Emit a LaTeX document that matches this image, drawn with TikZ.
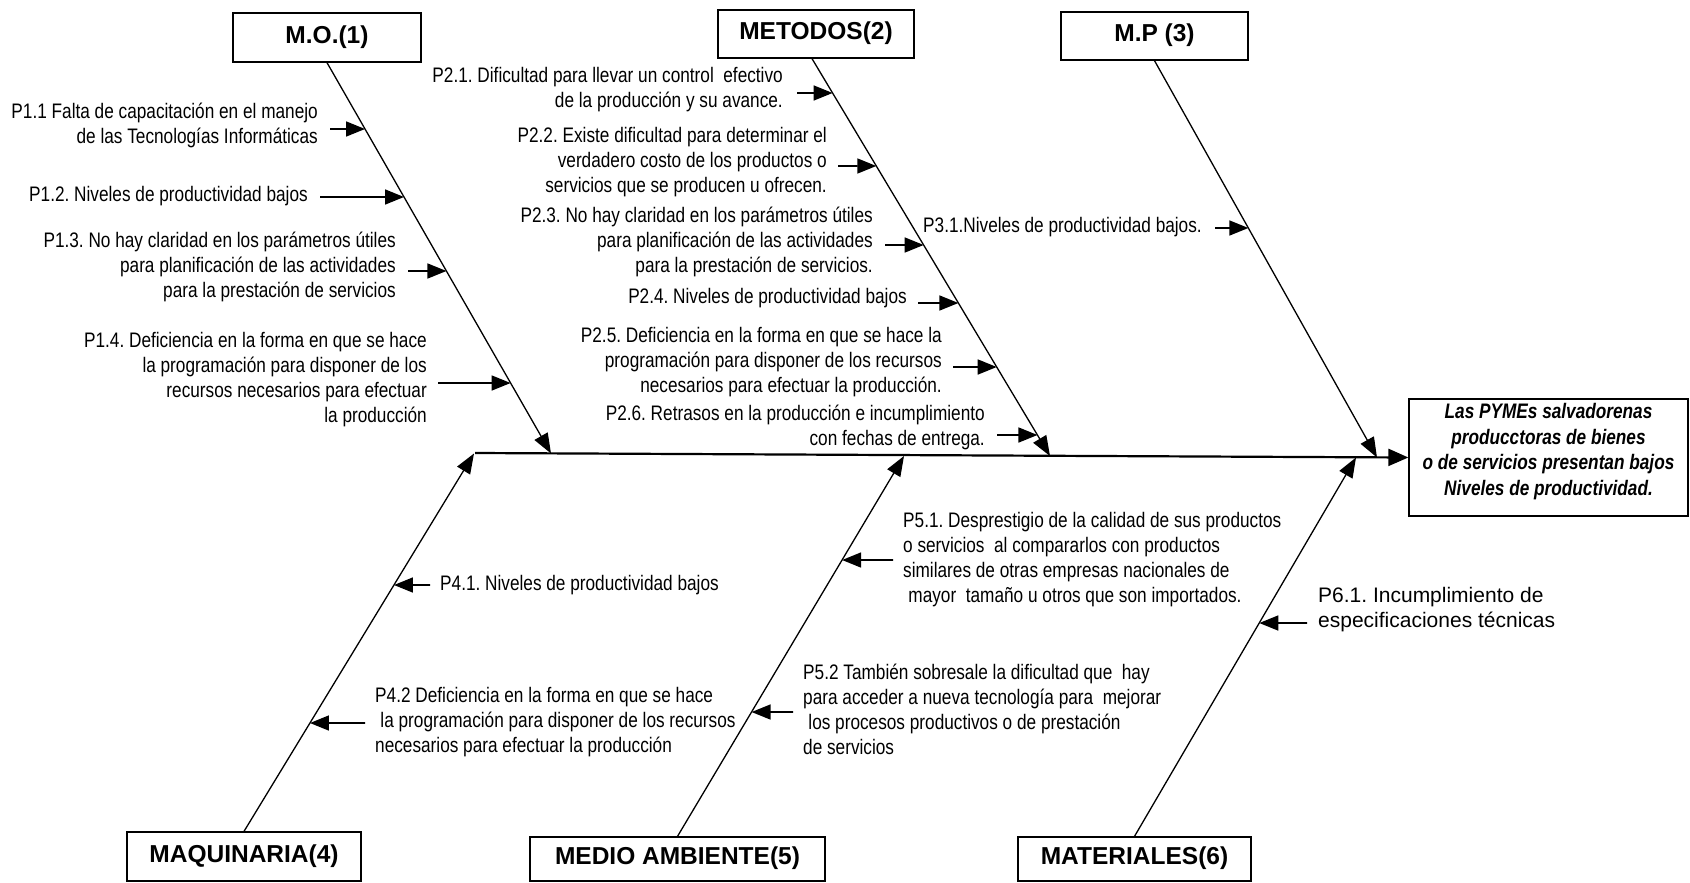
\documentclass[tikz,border=0pt]{standalone}
\usepackage{fontspec}
\setmainfont{Liberation Sans}[FakeStretch=0.82]
\newfontfamily\widefont{Liberation Sans}
\usetikzlibrary{arrows.meta,calc}
\frenchspacing

\tikzset{
  catbox/.style={draw, line width=1.3pt, inner sep=0pt,
    font=\widefont\bfseries\fontsize{24.5}{28}\selectfont,
    text height=20pt, text depth=8.4pt},
  cause/.style={inner sep=0pt, font=\fontsize{21}{25}\selectfont},
  widecause/.style={inner sep=0pt, font=\widefont\fontsize{21}{25}\selectfont},
  bone/.style={line width=1.3pt, -{Triangle[length=20pt,width=15pt]}},
  causearrow/.style={line width=1.6pt, -{Triangle[length=19pt,width=15pt]}},
  spine/.style={line width=2.2pt, -{Triangle[length=20pt,width=17pt]}},
  effbox/.style={draw, line width=1.3pt, inner sep=0pt},
}

\begin{document}
\begin{tikzpicture}[x=1pt,y=-1pt]
\useasboundingbox (0,0) rectangle (1690,883);

% category boxes
\node[catbox, minimum width=188pt, minimum height=49pt] (mo)  at (327,37.5)   {M.O.(1)};
\node[catbox, minimum width=196pt, minimum height=48pt] (met) at (816,34)     {METODOS(2)};
\node[catbox, minimum width=187pt, minimum height=48pt] (mp)  at (1154.5,36)  {M.P (3)};
\node[catbox, minimum width=234pt, minimum height=49pt] (maq) at (244,856.5)  {MAQUINARIA(4)};
\node[catbox, minimum width=295pt, minimum height=44pt] (med) at (677.5,859)  {MEDIO AMBIENTE(5)};
\node[catbox, minimum width=233pt, minimum height=44pt] (mat) at (1134.5,859) {MATERIALES(6)};

% effect
\node[effbox, minimum width=279pt, minimum height=117pt] (eff) at (1548.5,457.5) {};
\node[inner sep=0pt, align=center, font=\bfseries\itshape\fontsize{21}{25.7}\selectfont]
  (efftext) at (1548.5,451.5)
  {Las PYMEs salvadorenas\\producctoras de bienes\\o de servicios presentan bajos\\Niveles de productividad.};

% spine
\coordinate (sp0) at (475,453);
\draw[spine] (sp0) -- (eff.west);

% main bones
\coordinate (met-top) at ([xshift=-4pt]met.south);
\coordinate (mo-end)  at (551,453.5);
\coordinate (met-end) at (1050,456);
\coordinate (mp-end)  at (1377,457.5);
\coordinate (maq-end) at (474,453.5);
\coordinate (med-end) at (904,456);
\coordinate (mat-end) at (1356,457.5);
\draw[bone] (mo.south) -- (mo-end);
\draw[bone] (met-top) -- (met-end);
\draw[bone] (mp.south) -- (mp-end);
\draw[bone] (maq.north) -- (maq-end);
\draw[bone] (med.north) -- (med-end);
\draw[bone] (mat.north) -- (mat-end);

% M.O. causes
\node[cause, align=right, anchor=east] (p11) at (318,125.5)
  {P1.1 Falta de capacitación en el manejo\\de las Tecnologías Informáticas};
\node[cause, align=right, anchor=east] (p12) at (308,196)
  {P1.2. Niveles de productividad bajos};
\node[cause, align=right, anchor=east] (p13) at (396,267)
  {P1.3. No hay claridad en los parámetros útiles\\para planificación de las actividades\\para la prestación de servicios};
\node[cause, align=right, anchor=east] (p14) at (427,379.5)
  {P1.4. Deficiencia en la forma en que se hace\\la programación para disponer de los\\recursos necesarios para efectuar\\la producción};
\coordinate (s11) at (330,129);
\coordinate (s12) at (320,197);
\coordinate (s13) at (408,271);
\coordinate (s14) at (438,383);
\coordinate (t11) at (intersection of mo.south--mo-end and 0,129--1690,129);
\coordinate (t12) at (intersection of mo.south--mo-end and 0,197--1690,197);
\coordinate (t13) at (intersection of mo.south--mo-end and 0,271--1690,271);
\coordinate (t14) at (intersection of mo.south--mo-end and 0,383--1690,383);
\draw[causearrow] (s11) -- (t11);
\draw[causearrow] (s12) -- (t12);
\draw[causearrow] (s13) -- (t13);
\draw[causearrow] (s14) -- (t14);

% METODOS causes
\node[cause, align=right, anchor=east] (p21) at (783,90)
  {P2.1. Dificultad para llevar un control~ efectivo\\de la producción y su avance.};
\node[cause, align=right, anchor=east] (p22) at (827,162)
  {P2.2. Existe dificultad para determinar el\\verdadero costo de los productos o\\servicios que se producen u ofrecen.};
\node[cause, align=right, anchor=east] (p23) at (873,241.5)
  {P2.3. No hay claridad en los parámetros útiles\\para planificación de las actividades\\para la prestación de servicios.};
\node[cause, align=right, anchor=east] (p24) at (907,298)
  {P2.4. Niveles de productividad bajos};
\node[cause, align=right, anchor=east] (p25) at (942,362.5)
  {P2.5. Deficiencia en la forma en que se hace la\\programación para disponer de los recursos\\necesarios para efectuar la producción.};
\node[cause, align=right, anchor=east] (p26) at (985,427.5)
  {P2.6. Retrasos en la producción e incumplimiento\\con fechas de entrega.};
\coordinate (s21) at (797,93);
\coordinate (s22) at (838,166);
\coordinate (s23) at (885,245);
\coordinate (s24) at (918,303);
\coordinate (s25) at (953,367);
\coordinate (s26) at (997,435);
\coordinate (t21) at (intersection of met-top--met-end and 0,93--1690,93);
\coordinate (t22) at (intersection of met-top--met-end and 0,166--1690,166);
\coordinate (t23) at (intersection of met-top--met-end and 0,245--1690,245);
\coordinate (t24) at (intersection of met-top--met-end and 0,303--1690,303);
\coordinate (t25) at (intersection of met-top--met-end and 0,367--1690,367);
\coordinate (t26) at (intersection of met-top--met-end and 0,435--1690,435);
\draw[causearrow] (s21) -- (t21);
\draw[causearrow] (s22) -- (t22);
\draw[causearrow] (s23) -- (t23);
\draw[causearrow] (s24) -- (t24);
\draw[causearrow] (s25) -- (t25);
\draw[causearrow] (s26) -- (t26);

% M.P cause
\node[cause, anchor=west] (p31) at (923,227) {P3.1.Niveles de productividad bajos.};
\coordinate (s31) at (1215,228);
\coordinate (t31) at (intersection of mp.south--mp-end and 0,228--1690,228);
\draw[causearrow] (s31) -- (t31);

% MAQUINARIA causes
\node[cause, align=left, anchor=west] (p41) at (440,585) {P4.1. Niveles de productividad bajos};
\node[cause, align=left, anchor=west] (p42) at (375,722.5)
  {P4.2 Deficiencia en la forma en que se hace\\\hspace*{0.25em}la programación para disponer de los recursos\\necesarios para efectuar la producción};
\coordinate (s41) at (430,585);
\coordinate (s42) at (365,723);
\coordinate (t41) at (intersection of maq.north--maq-end and 0,585--1690,585);
\coordinate (t42) at (intersection of maq.north--maq-end and 0,723--1690,723);
\draw[causearrow] (s41) -- (t41);
\draw[causearrow] (s42) -- (t42);

% MEDIO AMBIENTE causes
\node[cause, align=left, anchor=west] (p51) at (903,559.5)
  {P5.1. Desprestigio de la calidad de sus productos\\o servicios~ al compararlos con productos\\similares de otras empresas nacionales de\\\hspace*{0.25em}mayor~ tamaño u otros que son importados.};
\node[cause, align=left, anchor=west] (p52) at (803,709.5)
  {P5.2 También sobresale la dificultad que~ hay\\para acceder a nueva tecnología para~ mejorar\\\hspace*{0.25em}los procesos productivos o de prestación\\de servicios};
\coordinate (s51) at (893,560);
\coordinate (s52) at (793,712);
\coordinate (t51) at (intersection of med.north--med-end and 0,560--1690,560);
\coordinate (t52) at (intersection of med.north--med-end and 0,712--1690,712);
\draw[causearrow] (s51) -- (t51);
\draw[causearrow] (s52) -- (t52);

% MATERIALES cause
\node[widecause, align=left, anchor=west] (p61) at (1318,609.5)
  {P6.1. Incumplimiento de\\especificaciones técnicas};
\coordinate (s61) at (1307,623);
\coordinate (t61) at (intersection of mat.north--mat-end and 0,623--1690,623);
\draw[causearrow] (s61) -- (t61);

\end{tikzpicture}
\end{document}
